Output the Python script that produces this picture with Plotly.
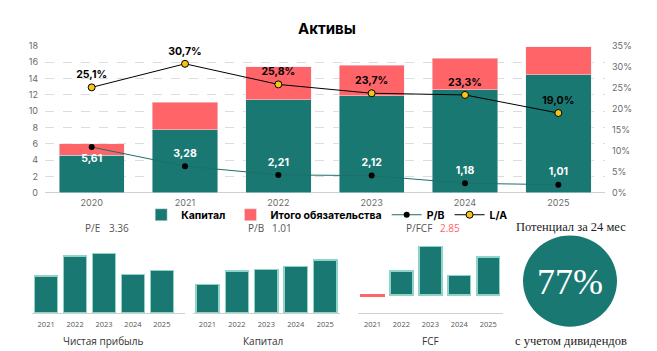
import plotly.graph_objects as go

W, H = 657, 351

# ---------------- data ----------------
years = ["2020", "2021", "2022", "2023", "2024", "2025"]
capital = [4.58, 7.74, 11.41, 11.88, 12.64, 14.45]
liabilities = [1.42, 3.36, 4.03, 3.76, 3.83, 3.40]
pb_series = [5.61, 3.28, 2.21, 2.12, 1.18, 1.01]
la_series = [0.251, 0.307, 0.258, 0.237, 0.233, 0.190]

small_years = ["2021", "2022", "2023", "2024", "2025"]
net_profit = [2.90, 4.47, 4.70, 3.02, 3.33]
capital_small = [7.74, 11.41, 11.88, 12.64, 14.45]
fcf = [-0.08, 1.50, 3.00, 1.20, 2.34]

pe_value = "3.36"
pb_value = "1.01"
pfcf_value = "2.85"
potential = "77%"

TEAL = "#1a7873"
RED = "#ff6469"
LIGHT_TEAL = "#8fd3c9"


def px(x):
    return x / W


def py(y):
    return 1 - y / H


fig = go.Figure()

# ---------------- main chart ----------------
fig.add_trace(go.Bar(x=years, y=capital, name="Капитал", marker=dict(color=TEAL),
                     width=0.7, xaxis="x", yaxis="y"))
fig.add_trace(go.Bar(x=years, y=liabilities, name="Итого обязательства", marker=dict(color=RED),
                     width=0.7, xaxis="x", yaxis="y"))
fig.add_trace(go.Scatter(x=years, y=pb_series, name="P/B", mode="lines+markers",
                         line=dict(color="#1d6f69", width=1),
                         marker=dict(color="black", size=6), xaxis="x", yaxis="y"))
fig.add_trace(go.Scatter(x=years, y=la_series, name="L/A", mode="lines+markers",
                         line=dict(color="black", width=1),
                         marker=dict(color="#f5c518", size=7, line=dict(color="black", width=1)),
                         xaxis="x", yaxis="y2"))
# labels (invisible markers give the text its offset)
fig.add_trace(go.Scatter(x=years, y=pb_series, mode="markers+text", showlegend=False,
                         marker=dict(size=9, color="rgba(0,0,0,0)"),
                         text=[f"{v:.2f}".replace(".", ",") for v in pb_series],
                         textposition=["bottom center"] + ["top center"] * 5,
                         textfont=dict(color="white", size=10.5, family="Inter", weight=700),
                         xaxis="x", yaxis="y", cliponaxis=False, hoverinfo="skip"))
fig.add_trace(go.Scatter(x=years, y=la_series, mode="markers+text", showlegend=False,
                         marker=dict(size=9, color="rgba(0,0,0,0)"),
                         text=[f"{v*100:.1f}%".replace(".", ",") for v in la_series],
                         textposition="top center",
                         textfont=dict(color="black", size=10.5, family="Inter", weight=700),
                         xaxis="x", yaxis="y2", cliponaxis=False, hoverinfo="skip"))

# ---------------- small charts ----------------
small_bar = dict(color=TEAL, line=dict(color=LIGHT_TEAL, width=1.5))
fig.add_trace(go.Bar(x=small_years, y=net_profit, marker=small_bar, width=0.79,
                     showlegend=False, xaxis="x2", yaxis="y3"))
fig.add_trace(go.Bar(x=small_years, y=capital_small, marker=small_bar, width=0.79,
                     showlegend=False, xaxis="x3", yaxis="y4"))
fcf_colors = [RED if v < 0 else TEAL for v in fcf]
fcf_lines = [RED if v < 0 else LIGHT_TEAL for v in fcf]
fig.add_trace(go.Bar(x=small_years, y=fcf, width=0.79,
                     marker=dict(color=fcf_colors, line=dict(color=fcf_lines, width=1.5)),
                     showlegend=False, xaxis="x4", yaxis="y5"))

tick_font = dict(size=9, color="#6b6b6b", family="Inter")
small_tick = dict(size=7.5, color="#555555", family="Open Sans")

fig.update_layout(
    width=W, height=H, autosize=False,
    margin=dict(l=0, r=0, t=0, b=0),
    paper_bgcolor="white", plot_bgcolor="white",
    barmode="stack",
    bargap=0.3,
    xaxis=dict(domain=[px(45), px(605)], type="category", tickfont=tick_font,
               showgrid=False, showline=False, ticks="", ticklabelstandoff=3, anchor="y"),
    yaxis=dict(domain=[py(193), py(41)], range=[0, 18], dtick=2, tickfont=tick_font,
               gridcolor="#dcdcdc", griddash="dash", gridwidth=1,
               zeroline=True, zerolinecolor="#d0d0d0", zerolinewidth=1,
               ticks="", ticklabelstandoff=6, anchor="x"),
    yaxis2=dict(overlaying="y", side="right", range=[0, 0.35], dtick=0.05,
                tickformat=".0%", tickfont=tick_font, showgrid=False, zeroline=False,
                ticks="", ticklabelstandoff=6, anchor="x"),
    xaxis2=dict(domain=[px(31.7), px(185)], type="category", range=[-0.5, 4.8],
                showline=True, linecolor="#d0d0d0", tickfont=small_tick, ticks="",
                ticklabelstandoff=4, showgrid=False, anchor="y3"),
    yaxis3=dict(domain=[py(317), py(250)], range=[0, 5.1], visible=False, anchor="x2"),
    xaxis3=dict(domain=[px(192.7), px(340)], type="category", range=[-0.5, 4.5],
                showline=True, linecolor="#d0d0d0", tickfont=small_tick, ticks="",
                ticklabelstandoff=4, showgrid=False, anchor="y4"),
    yaxis4=dict(domain=[py(317), py(250)], range=[0, 17.7], visible=False, anchor="x3"),
    xaxis4=dict(domain=[px(358), px(502.7)], type="category", range=[-0.5, 4.5],
                showline=True, linecolor="#d0d0d0", tickfont=small_tick, ticks="",
                ticklabelstandoff=4, showgrid=False, anchor="y5"),
    yaxis5=dict(domain=[py(316.7), py(246)], range=[-1.1, 3.14], visible=False,
                zeroline=False, anchor="x4"),
    legend=dict(orientation="h", x=0.498, xanchor="center", y=py(215.5), yanchor="middle",
                font=dict(size=10.5, color="black", family="Inter", weight=700),
                bgcolor="rgba(0,0,0,0)", itemwidth=30, traceorder="normal"),
    showlegend=True,
)

ann = []
ann.append(dict(text="<b>Активы</b>", x=px(326.5), y=py(23), xref="paper", yref="paper",
                xanchor="center", yanchor="middle",
                showarrow=False, font=dict(size=15, color="black", family="Inter")))
lab_font = dict(size=10, color="#555555", family="Open Sans")
for label, val, lx, vx, vcol in [("P/E", pe_value, 82.7, 106.7, "#555555"),
                                  ("P/B", pb_value, 245.7, 270, "#555555"),
                                  ("P/FCF", pfcf_value, 404, 438, RED)]:
    ann.append(dict(text=label, x=px(lx), y=py(229), xref="paper", yref="paper",
                    xanchor="left", yanchor="middle", showarrow=False, font=lab_font))
    ann.append(dict(text=val, x=px(vx), y=py(229), xref="paper", yref="paper",
                    xanchor="left", yanchor="middle", showarrow=False,
                    font=dict(size=10, color=vcol, family="Open Sans")))
for t, cx in [("Чистая прибыль", 103), ("Капитал", 263), ("FCF", 430)]:
    ann.append(dict(text=t, x=px(cx), y=py(346), xref="paper", yref="paper",
                    xanchor="center", yanchor="middle", showarrow=False,
                    font=dict(size=10, color="#333333", family="Open Sans")))
serif = "Liberation Serif"
ann.append(dict(text="Потенциал за 24 мес", x=px(571), y=py(228), xref="paper", yref="paper",
                showarrow=False, xanchor="center", yanchor="middle",
                font=dict(size=12.5, color="#222222", family=serif)))
ann.append(dict(text="с учетом дивидендов", x=px(571), y=py(346), xref="paper", yref="paper",
                showarrow=False, xanchor="center", yanchor="middle",
                font=dict(size=12.5, color="#222222", family=serif)))
ann.append(dict(text=potential, x=px(570), y=py(285), xref="paper", yref="paper",
                showarrow=False, xanchor="center", yanchor="middle",
                font=dict(size=36, color="white", family=serif)))
fig.update_layout(annotations=ann)

fig.add_shape(type="circle", xref="paper", yref="paper",
              x0=px(523), x1=px(617), y0=py(331), y1=py(237),
              fillcolor=TEAL, line=dict(width=0), layer="below")

fig.write_html("out.html")
